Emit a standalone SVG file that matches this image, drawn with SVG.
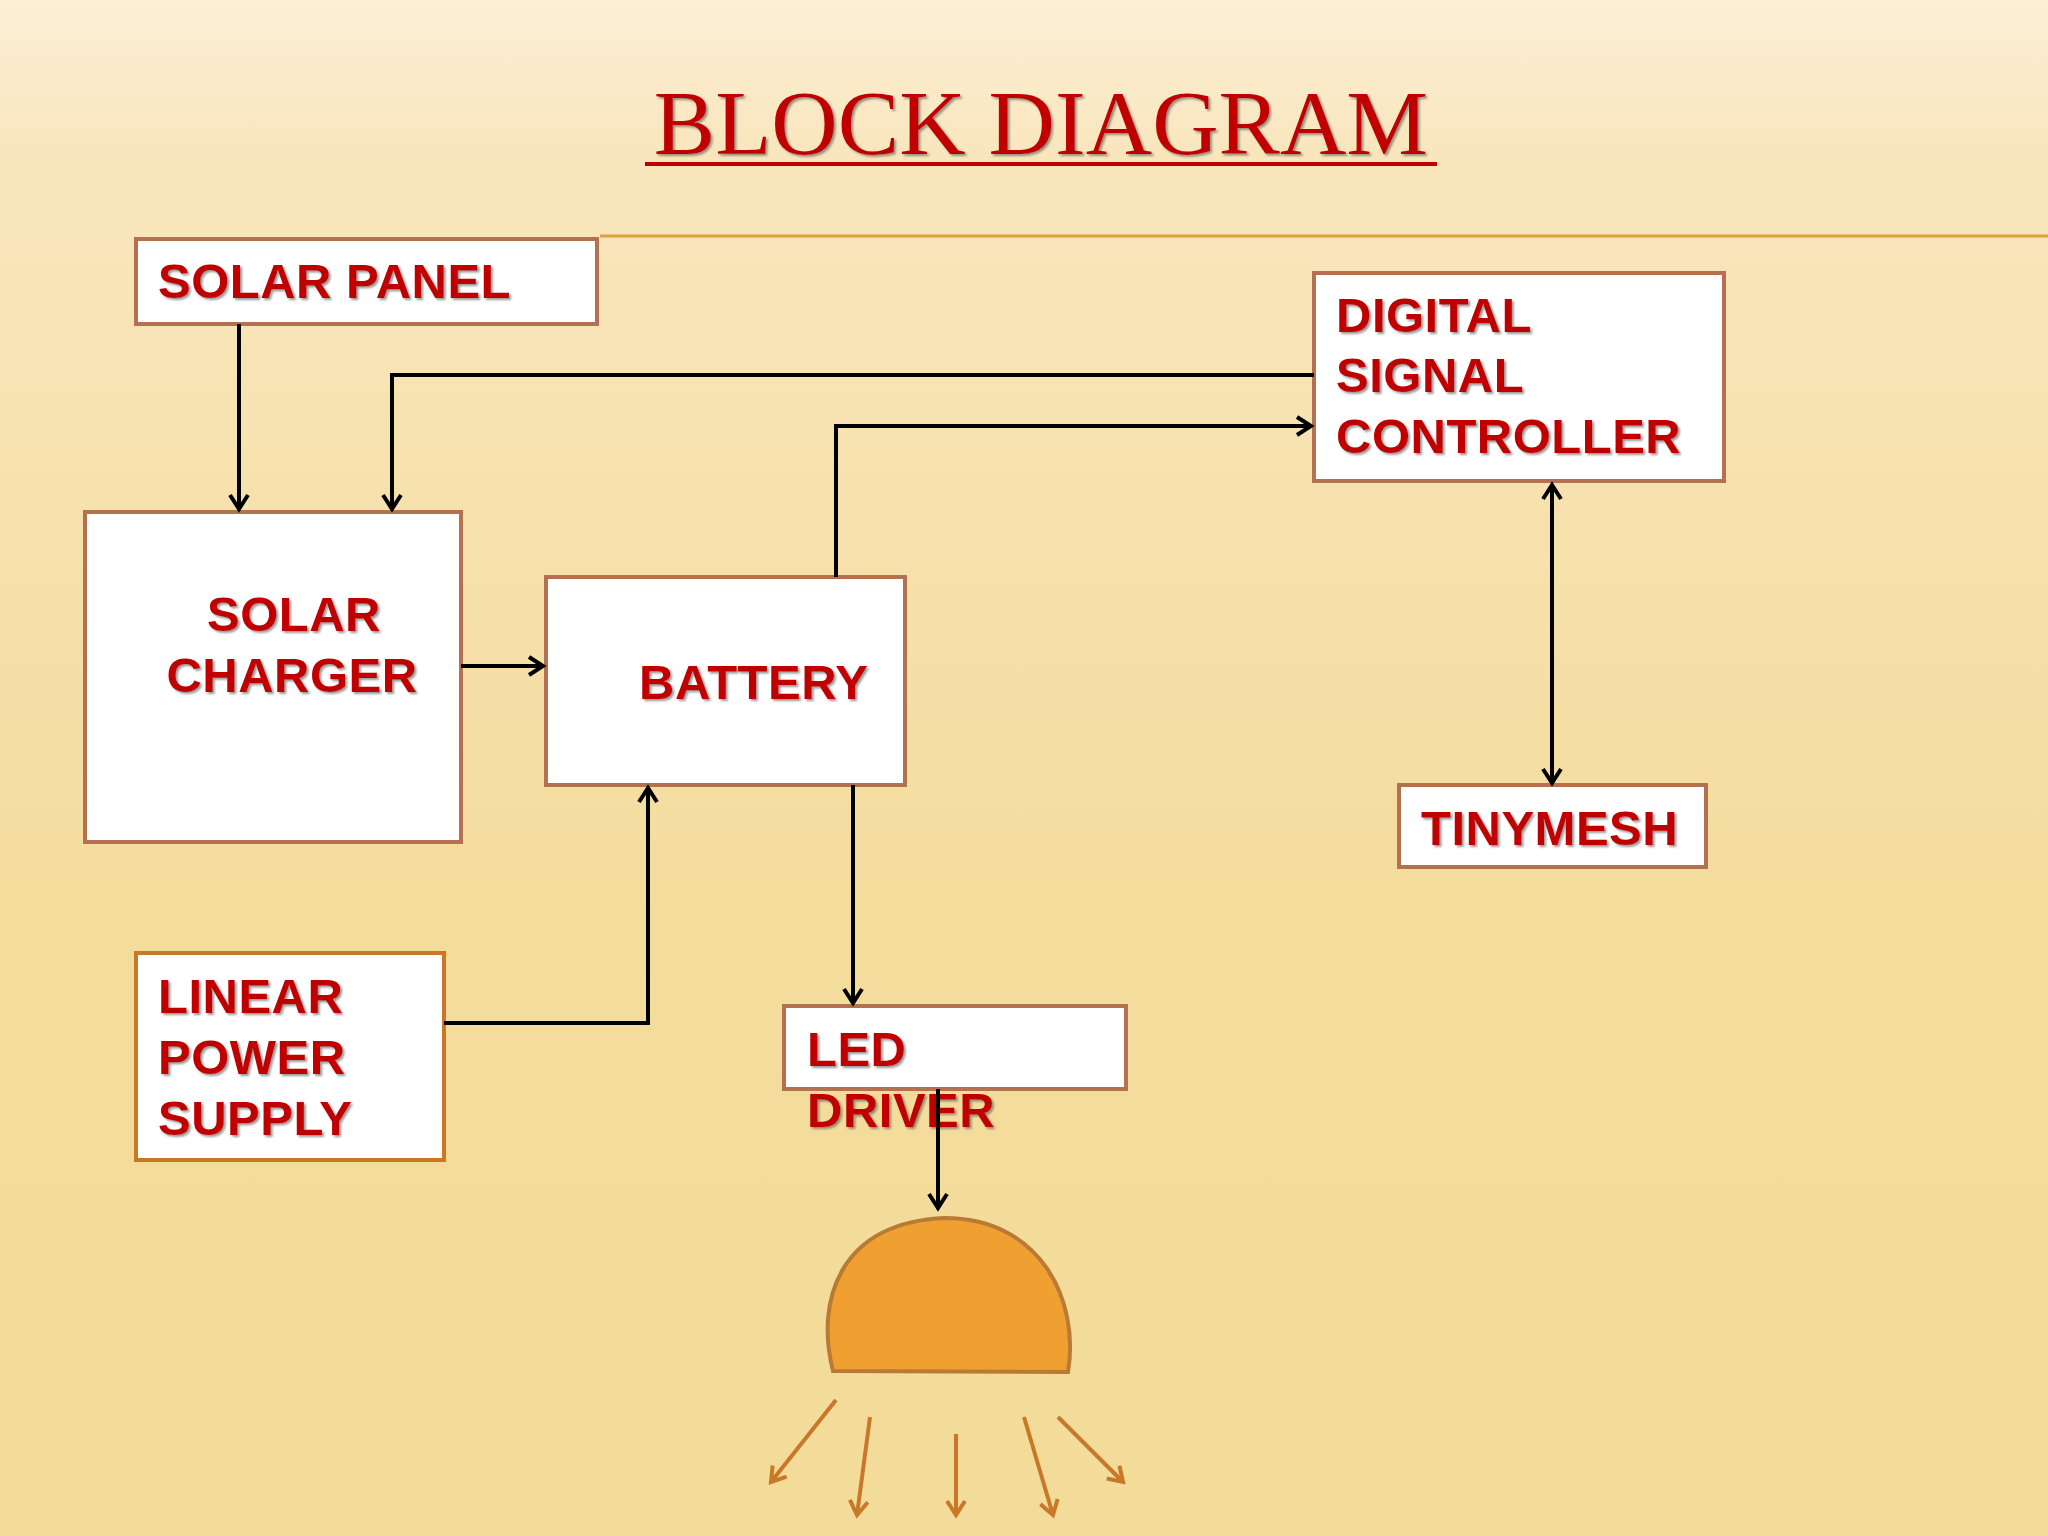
<svg xmlns="http://www.w3.org/2000/svg" width="2048" height="1536" viewBox="0 0 2048 1536">
<defs>
<linearGradient id="bg" x1="0" y1="0" x2="0" y2="1">
<stop offset="0" stop-color="#fcefd6"/><stop offset="0.1" stop-color="#f9e6bd"/><stop offset="0.6" stop-color="#f4dc9c"/><stop offset="1" stop-color="#f3dc9a"/>
</linearGradient>
<marker id="ah" markerWidth="24" markerHeight="24" refX="18" refY="12" orient="auto-start-reverse" markerUnits="userSpaceOnUse">
<path d="M4,3 L18,12 L4,21" fill="none" stroke="#000" stroke-width="4"/>
</marker>
<marker id="oh" markerWidth="24" markerHeight="24" refX="18" refY="12" orient="auto" markerUnits="userSpaceOnUse">
<path d="M4,3 L18,12 L4,21" fill="none" stroke="#c9782a" stroke-width="4"/>
</marker>
<filter id="sh"><feDropShadow dx="2" dy="2" stdDeviation="1" flood-color="#555" flood-opacity="0.6"/></filter>
</defs>
<style>
.box{fill:#fff;stroke:#b5714f;stroke-width:4}
.t{font-family:"Liberation Sans",Arial,sans-serif;font-weight:bold;font-size:49px;letter-spacing:0.5px;fill:#c00000;filter:url(#sh)}
.c{fill:none;stroke:#000;stroke-width:4;marker-end:url(#ah)}
.r{stroke:#c9782a;stroke-width:4;marker-end:url(#oh)}
</style>
<rect width="2048" height="1536" fill="url(#bg)"/>
<line x1="600" y1="236" x2="2048" y2="236" stroke="#e0a040" stroke-width="3"/>
<text x="1041" y="154" text-anchor="middle" font-family="Liberation Serif,serif" font-size="92" fill="#c00000" filter="url(#sh)">BLOCK DIAGRAM</text>
<line x1="645" y1="164" x2="1437" y2="164" stroke="#c00000" stroke-width="4"/>
<g id="solar-panel"><rect class="box" x="136" y="239" width="461" height="85"/><text class="t" x="158" y="298">SOLAR PANEL</text></g>
<g id="solar-charger"><rect class="box" x="85" y="512" width="376" height="330"/><text class="t" x="294" y="631" text-anchor="middle">SOLAR</text><text class="t" x="292" y="692" text-anchor="middle">CHARGER</text></g>
<g id="battery"><rect class="box" x="546" y="577" width="359" height="208"/><text class="t" x="639" y="699">BATTERY</text></g>
<g id="dsc"><rect class="box" x="1314" y="273" width="410" height="208"/><text class="t" x="1336" y="332">DIGITAL</text><text class="t" x="1336" y="392">SIGNAL</text><text class="t" x="1336" y="453">CONTROLLER</text></g>
<g id="tinymesh"><rect class="box" x="1399" y="785" width="307" height="82"/><text class="t" x="1421" y="845">TINYMESH</text></g>
<g id="lps"><rect class="box" x="136" y="953" width="308" height="207" style="stroke:#c9782a"/><text class="t" x="158" y="1013">LINEAR</text><text class="t" x="158" y="1074">POWER</text><text class="t" x="158" y="1135">SUPPLY</text></g>
<g id="led-driver"><rect class="box" x="784" y="1006" width="342" height="83"/><text class="t" x="807" y="1066">LED</text><text class="t" x="807" y="1127">DRIVER</text></g>
<g id="lamp"><path d="M833,1371 C815,1300 840,1222 945,1218 C1040,1218 1080,1300 1068,1372 Z" fill="#f0a030" stroke="#b97a35" stroke-width="4"/></g>
<g id="connectors">
<path class="c" d="M239,324 V509"/>
<path class="c" d="M1314,375 H392 V509"/>
<path class="c" d="M836,577 V426 H1311"/>
<path class="c" d="M461,666 H543"/>
<path class="c" d="M1552,485 V783" style="marker-start:url(#ah)"/>
<path class="c" d="M444,1023 H648 V788"/>
<path class="c" d="M853,785 V1003"/>
<path class="c" d="M938,1089 V1208"/>
<line class="r" x1="836" y1="1400" x2="771" y2="1482"/>
<line class="r" x1="870" y1="1417" x2="857" y2="1515"/>
<line class="r" x1="956" y1="1434" x2="956" y2="1515"/>
<line class="r" x1="1024" y1="1417" x2="1053" y2="1515"/>
<line class="r" x1="1058" y1="1417" x2="1123" y2="1482"/>
</g>
</svg>
